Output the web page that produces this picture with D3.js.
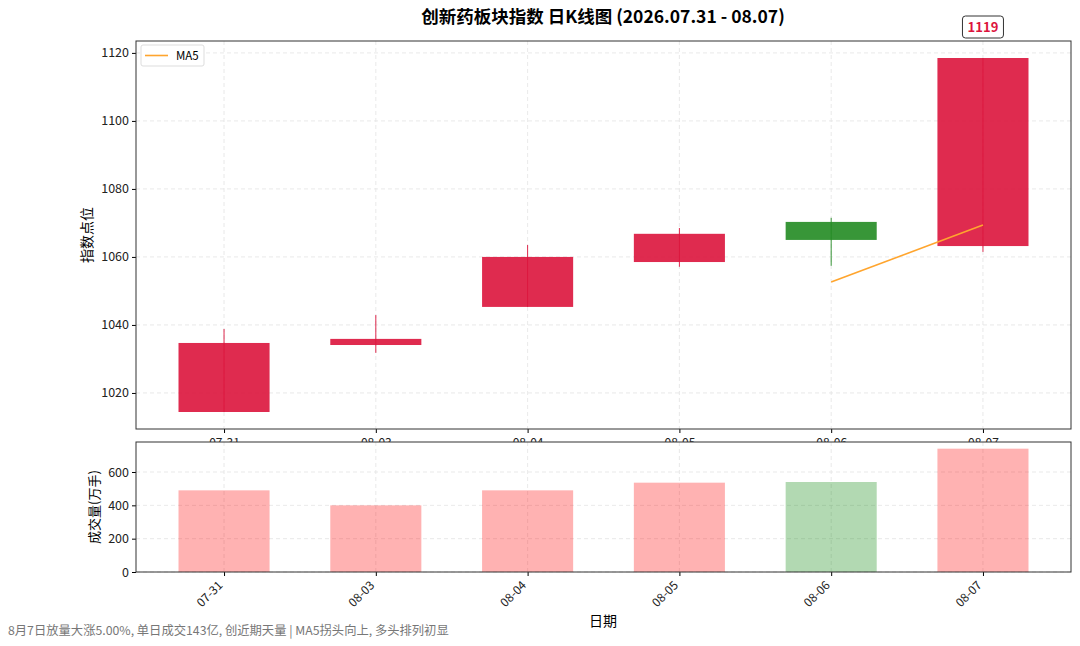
<!DOCTYPE html>
<html>
<head>
<meta charset="utf-8">
<script src="https://cdn.jsdelivr.net/npm/d3@7"></script>
<style>
  body { margin: 0; background: #fff; }
  svg { font-family: "Noto Sans CJK SC", "Noto Sans", sans-serif; }
</style>
</head>
<body>
<svg id="canvas" width="1080" height="646"></svg>
<script>
// data
let dates = ["07-31", "08-03", "08-04", "08-05", "08-06", "08-07"]
let opens = [1014.4, 1034.1, 1045.3, 1058.5, 1070.3, 1063.2]
let closes = [1034.7, 1035.9, 1060.0, 1066.8, 1065.0, 1118.5]
let highs = [1038.8, 1042.9, 1063.5, 1068.5, 1071.5, 1118.5]
let lows = [1014.4, 1031.8, 1045.3, 1057.1, 1057.4, 1061.5]
let ma5 = [null, null, null, null, 1052.6, 1069.4]
let volumes = [490, 400, 490, 536, 540, 740]
let priceTicks = [1020, 1040, 1060, 1080, 1100, 1120]
let volTicks = [0, 200, 400, 600]

let canvas = d3.select("#canvas")

const left = 136, right = 1071
const top1 = 41, bottom1 = 429
const top2 = 442, bottom2 = 572
const upColor = "#dc143c", downColor = "#228b22"
const gridColor = "#e3e3e3"

let x = d3.scaleLinear().domain([-0.58, 5.58]).range([left, right])
let y = d3.scaleLinear().domain([1009.4, 1123.5]).range([bottom1, top1])
let yv = d3.scaleLinear().domain([0, 780]).range([bottom2, top2])
let bw = x(0.3) - x(0)

// title
canvas.append("text")
    .attr("x", 603).attr("y", 23)
    .attr("text-anchor", "middle")
    .attr("font-size", "17.5px").attr("font-weight", "bold")
    .text("创新药板块指数 日K线图 (2026.07.31 - 08.07)")

// ---- price panel ----
let g1 = canvas.append("g")

// grid
g1.selectAll(".hgrid").data(priceTicks).enter().append("line")
    .attr("x1", left).attr("x2", right)
    .attr("y1", d => y(d)).attr("y2", d => y(d))
    .attr("stroke", gridColor).attr("stroke-dasharray", "4,3").attr("stroke-width", 0.8)
g1.selectAll(".vgrid").data(dates).enter().append("line")
    .attr("x1", (d, i) => x(i)).attr("x2", (d, i) => x(i))
    .attr("y1", top1).attr("y2", bottom1)
    .attr("stroke", gridColor).attr("stroke-dasharray", "4,3").attr("stroke-width", 0.8)

// wicks
g1.selectAll(".wick").data(dates).enter().append("line")
    .attr("x1", (d, i) => x(i)).attr("x2", (d, i) => x(i))
    .attr("y1", (d, i) => y(highs[i])).attr("y2", (d, i) => y(lows[i]))
    .attr("stroke", (d, i) => closes[i] >= opens[i] ? upColor : downColor)
    .attr("stroke-width", 1).attr("opacity", 0.9)

// bodies
g1.selectAll(".body").data(dates).enter().append("rect")
    .attr("x", (d, i) => x(i) - bw)
    .attr("width", bw * 2)
    .attr("y", (d, i) => y(Math.max(opens[i], closes[i])))
    .attr("height", (d, i) => Math.abs(y(opens[i]) - y(closes[i])))
    .attr("fill", (d, i) => closes[i] >= opens[i] ? upColor : downColor)
    .attr("opacity", 0.9)

// MA5
let maLine = d3.line()
    .defined(d => d !== null)
    .x((d, i) => x(i))
    .y(d => y(d))
g1.append("path")
    .datum(ma5)
    .attr("d", maLine)
    .attr("fill", "none")
    .attr("stroke", "#ffa52e").attr("stroke-width", 1.6)

// axes
g1.append("g")
    .attr("transform", `translate(${left},0)`)
    .call(d3.axisLeft(y).tickValues(priceTicks).tickFormat(d3.format("d")).tickSize(4).tickPadding(3))
    .call(a => a.select(".domain").remove())
    .selectAll("text").attr("font-size", "12.5px").attr("fill", "#222")
    .attr("font-family", "Noto Sans CJK SC")

g1.append("g")
    .attr("transform", `translate(0,${bottom1})`)
    .call(d3.axisBottom(x).tickValues(d3.range(dates.length)).tickFormat(i => dates[i]).tickSize(4).tickPadding(5))
    .call(a => a.select(".domain").remove())
    .selectAll("text").attr("font-size", "12px").attr("fill", "#222")
    .attr("font-family", "Noto Sans CJK SC")

g1.append("rect")
    .attr("x", left).attr("y", top1)
    .attr("width", right - left).attr("height", bottom1 - top1)
    .attr("fill", "none").attr("stroke", "#333").attr("stroke-width", 1)

g1.append("text")
    .attr("transform", `translate(92,${(top1 + bottom1) / 2}) rotate(-90)`)
    .attr("text-anchor", "middle")
    .attr("font-size", "14px")
    .text("指数点位")

// legend
let lg = g1.append("g")
lg.append("rect")
    .attr("x", 141).attr("y", 45).attr("width", 63).attr("height", 21)
    .attr("rx", 2).attr("fill", "#fff").attr("stroke", "#ddd")
lg.append("line")
    .attr("x1", 145).attr("x2", 168).attr("y1", 55.5).attr("y2", 55.5)
    .attr("stroke", "#ffa52e").attr("stroke-width", 1.6)
lg.append("text")
    .attr("x", 176).attr("y", 59.5)
    .attr("font-size", "11.5px")
    .text("MA5")

// last close annotation
let last = dates.length - 1
let ann = g1.append("g")
    .attr("transform", `translate(${x(last)},${y(closes[last]) - 31})`)
ann.append("rect")
    .attr("x", -20.5).attr("y", -11).attr("width", 41).attr("height", 22)
    .attr("rx", 3).attr("fill", "#fff").attr("stroke", "#333").attr("stroke-width", 1)
ann.append("text")
    .attr("text-anchor", "middle").attr("y", 4.5)
    .attr("font-size", "13px").attr("font-weight", "bold")
    .attr("fill", upColor)
    .text(Math.round(closes[last]))

// ---- volume panel ----
let g2 = canvas.append("g")
g2.append("rect")
    .attr("x", left).attr("y", top2)
    .attr("width", right - left).attr("height", bottom2 - top2)
    .attr("fill", "#fff")

g2.selectAll(".hgrid").data(volTicks).enter().append("line")
    .attr("x1", left).attr("x2", right)
    .attr("y1", d => yv(d)).attr("y2", d => yv(d))
    .attr("stroke", gridColor).attr("stroke-dasharray", "4,3").attr("stroke-width", 0.8)
g2.selectAll(".vgrid").data(dates).enter().append("line")
    .attr("x1", (d, i) => x(i)).attr("x2", (d, i) => x(i))
    .attr("y1", top2).attr("y2", bottom2)
    .attr("stroke", gridColor).attr("stroke-dasharray", "4,3").attr("stroke-width", 0.8)

g2.selectAll(".vol").data(volumes).enter().append("rect")
    .attr("x", (d, i) => x(i) - bw)
    .attr("width", bw * 2)
    .attr("y", d => yv(d))
    .attr("height", d => yv(0) - yv(d))
    .attr("fill", (d, i) => closes[i] >= opens[i] ? "#ff0000" : "#008000")
    .attr("opacity", 0.3)

g2.append("g")
    .attr("transform", `translate(${left},0)`)
    .call(d3.axisLeft(yv).tickValues(volTicks).tickSize(4).tickPadding(3))
    .call(a => a.select(".domain").remove())
    .selectAll("text").attr("font-size", "12.5px").attr("fill", "#222")
    .attr("font-family", "Noto Sans CJK SC")

g2.append("g")
    .attr("transform", `translate(0,${bottom2})`)
    .call(d3.axisBottom(x).tickValues(d3.range(dates.length)).tickFormat(i => dates[i]).tickSize(4).tickPadding(3))
    .call(a => a.select(".domain").remove())
    .selectAll("text")
    .attr("font-size", "12px").attr("fill", "#222")
    .attr("font-family", "Noto Sans CJK SC")
    .attr("text-anchor", "end")
    .attr("y", 0)
    .attr("dy", "0.35em")
    .attr("transform", "translate(-4,11) rotate(-45)")

g2.append("rect")
    .attr("x", left).attr("y", top2)
    .attr("width", right - left).attr("height", bottom2 - top2)
    .attr("fill", "none").attr("stroke", "#333").attr("stroke-width", 1)

g2.append("text")
    .attr("transform", `translate(99,${(top2 + bottom2) / 2}) rotate(-90)`)
    .attr("text-anchor", "middle")
    .attr("font-size", "13px")
    .text("成交量(万手)")

g2.append("text")
    .attr("x", 603).attr("y", 626)
    .attr("text-anchor", "middle")
    .attr("font-size", "14px")
    .text("日期")

// footnote
canvas.append("text")
    .attr("x", 8).attr("y", 635)
    .attr("font-size", "12.3px").attr("fill", "#777")
    .text("8月7日放量大涨5.00%, 单日成交143亿, 创近期天量 | MA5拐头向上, 多头排列初显")
</script>
</body>
</html>
